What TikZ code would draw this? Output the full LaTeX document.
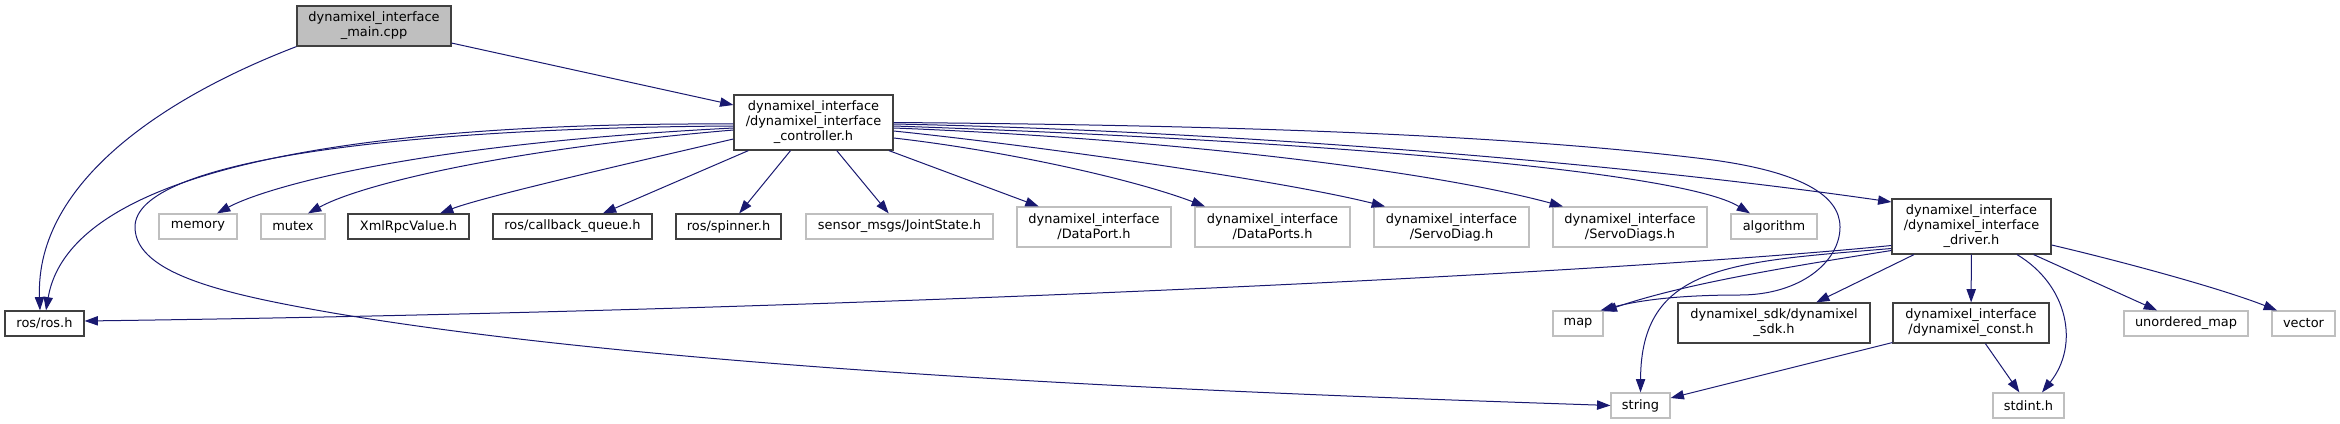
\documentclass[tikz,border=0pt]{standalone}
\usepackage{fontspec}
\setmainfont{DejaVu Sans}
\usetikzlibrary{arrows.meta,calc}
\definecolor{edgeblue}{RGB}{25,25,112}
\definecolor{darkframe}{RGB}{64,64,64}
\definecolor{greyframe}{RGB}{191,191,191}
\definecolor{mainfill}{RGB}{191,191,191}
\tikzset{
  incnode/.style={draw=darkframe,line width=0.9pt,fill=white,inner sep=0pt,align=center,font=\fontsize{9.7}{11.25}\selectfont},
  sysnode/.style={incnode,draw=greyframe},
  oneline/.style={minimum height=18.75pt},
  twoline/.style={minimum height=30pt},
  threeline/.style={minimum height=41.25pt},
  dep/.style={edgeblue,line width=0.75pt,-{Triangle[length=10pt,width=7pt]}}
}
\begin{document}
\begin{tikzpicture}[x=0.75pt,y=-0.75pt]
\useasboundingbox (0,0) rectangle (2340,424);
\node[incnode,fill=mainfill,twoline,minimum width=115.5pt] (main) at (374,26) {dynamixel\_interface\\\_main.cpp};
\node[incnode,threeline,minimum width=119.25pt] (ctrl) at (813.5,122.5) {dynamixel\_interface\\/dynamixel\_interface\\\_controller.h};
\node[incnode,oneline,minimum width=59.25pt] (rosh) at (44.5,323.5) {ros/ros.h};
\node[sysnode,oneline,minimum width=58.5pt] (memory) at (198,226.5) {memory};
\node[sysnode,oneline,minimum width=48pt] (mutex) at (293,226.5) {mutex};
\node[incnode,oneline,minimum width=90.75pt] (xmlrpc) at (408.5,226.5) {XmlRpcValue.h};
\node[incnode,oneline,minimum width=119.25pt] (cbqueue) at (572.5,226.5) {ros/callback\_queue.h};
\node[incnode,oneline,minimum width=78.75pt] (spinner) at (728.5,226.5) {ros/spinner.h};
\node[sysnode,oneline,minimum width=140.25pt] (joint) at (899.5,226.5) {sensor\_msgs/JointState.h};
\node[sysnode,twoline,minimum width=115.5pt] (dport) at (1094,227) {dynamixel\_interface\\/DataPort.h};
\node[sysnode,twoline,minimum width=116.25pt] (dports) at (1272.5,227) {dynamixel\_interface\\/DataPorts.h};
\node[sysnode,twoline,minimum width=116.25pt] (sdiag) at (1451.5,227) {dynamixel\_interface\\/ServoDiag.h};
\node[sysnode,twoline,minimum width=115.5pt] (sdiags) at (1630,227) {dynamixel\_interface\\/ServoDiags.h};
\node[sysnode,oneline,minimum width=64.5pt] (algo) at (1774,226.5) {algorithm};
\node[incnode,threeline,minimum width=119.25pt] (driver) at (1971.5,226.5) {dynamixel\_interface\\/dynamixel\_interface\\\_driver.h};
\node[sysnode,oneline,minimum width=37.5pt] (map) at (1578,323.5) {map};
\node[incnode,twoline,minimum width=144pt] (sdk) at (1774,323) {dynamixel\_sdk/dynamixel\\\_sdk.h};
\node[incnode,twoline,minimum width=117pt] (const) at (1971,323) {dynamixel\_interface\\/dynamixel\_const.h};
\node[sysnode,oneline,minimum width=93pt] (unmap) at (2186,323.5) {unordered\_map};
\node[sysnode,oneline,minimum width=47.25pt] (vector) at (2303.5,323.5) {vector};
\node[sysnode,oneline,minimum width=44.25pt] (string) at (1640.5,405.5) {string};
\node[sysnode,oneline,minimum width=53.25pt] (stdint) at (2028.5,405.5) {stdint.h};

\draw[dep] (main) -- (ctrl);
\draw[dep] (main.south west) .. controls (170,95) and (35,180) .. ($(rosh.north)+(-4.5,0)$);
\draw[dep] ($(ctrl.west)+(0,1.5)$) .. controls (350,122) and (70,170) .. ($(rosh.north)+(1.5,0)$);
\draw[dep] ($(ctrl.west)+(0,5.5)$) .. controls (400,145) and (260,190) .. ($(memory.north)+(19,0)$);
\draw[dep] ($(ctrl.west)+(0,7.5)$) .. controls (500,150) and (360,185) .. ($(mutex.north)+(15,0)$);
\draw[dep] ($(ctrl.west)+(0,16.5)$) .. controls (600,170) and (480,198) .. ($(xmlrpc.north)+(31.5,0)$);
\draw[dep] (ctrl) -- (cbqueue);
\draw[dep] (ctrl) -- (spinner);
\draw[dep] (ctrl) -- (joint);
\draw[dep] (ctrl) -- (dport);
\draw[dep] ($(ctrl.east)+(0,15.5)$) .. controls (1000,150) and (1130,178) .. ($(dports.north)+(-67.5,0)$);
\draw[dep] ($(ctrl.east)+(0,8.5)$) .. controls (1030,145) and (1280,180) .. ($(sdiag.north)+(-66.5,0)$);
\draw[dep] ($(ctrl.east)+(0,5.5)$) .. controls (1150,138) and (1420,168) .. ($(sdiags.north)+(-67,0)$);
\draw[dep] ($(ctrl.east)+(0,3.5)$) .. controls (1300,140) and (1680,170) .. ($(algo.north)+(-24,0)$);
\draw[dep] ($(ctrl.east)+(0,1.5)$) .. controls (1200,130) and (1600,160) .. ($(driver.west)+(0,-24.5)$);
\draw[dep] (ctrl.east) .. controls (1200,125) and (1500,133) .. (1713,160) .. controls (1800,172) and (1840,195) .. (1840,227)
  .. controls (1840,262) and (1800,295) .. (1740,295) .. controls (1680,295) and (1640,300) .. ($(map.north east)+(-3,0)$);
\draw[dep] ($(ctrl.west)+(0,3.5)$) .. controls (400,128) and (135,160) .. (135,227) .. controls (135,275) and (230,295) .. (333,313)
  .. controls (700,375) and (1300,395) .. (string.west);

\draw[dep] (driver) -- (sdk);
\draw[dep] (driver) -- (const);
\draw[dep] (driver) -- (unmap);
\draw[dep] ($(driver.west)+(0,19)$) .. controls (1650,270) and (900,310) .. ($(rosh.east)+(0,-2.5)$);
\draw[dep] ($(driver.west)+(0,24)$) .. controls (1780,268) and (1680,285) .. ($(map.north east)+(0,1)$);
\draw[dep] ($(driver.west)+(0,22)$) .. controls (1730,262) and (1641,265) .. (string.north);
\draw[dep] ($(driver.south)+(45.5,0)$) .. controls (2068,285) and (2080,345) .. ($(stdint.north)+(13.5,0)$);
\draw[dep] ($(driver.east)+(0,18.5)$) .. controls (2120,261) and (2220,288) .. ($(vector.north)+(-26.5,0)$);
\draw[dep] (const) -- (string);
\draw[dep] (const) -- (stdint);
\end{tikzpicture}
\end{document}
